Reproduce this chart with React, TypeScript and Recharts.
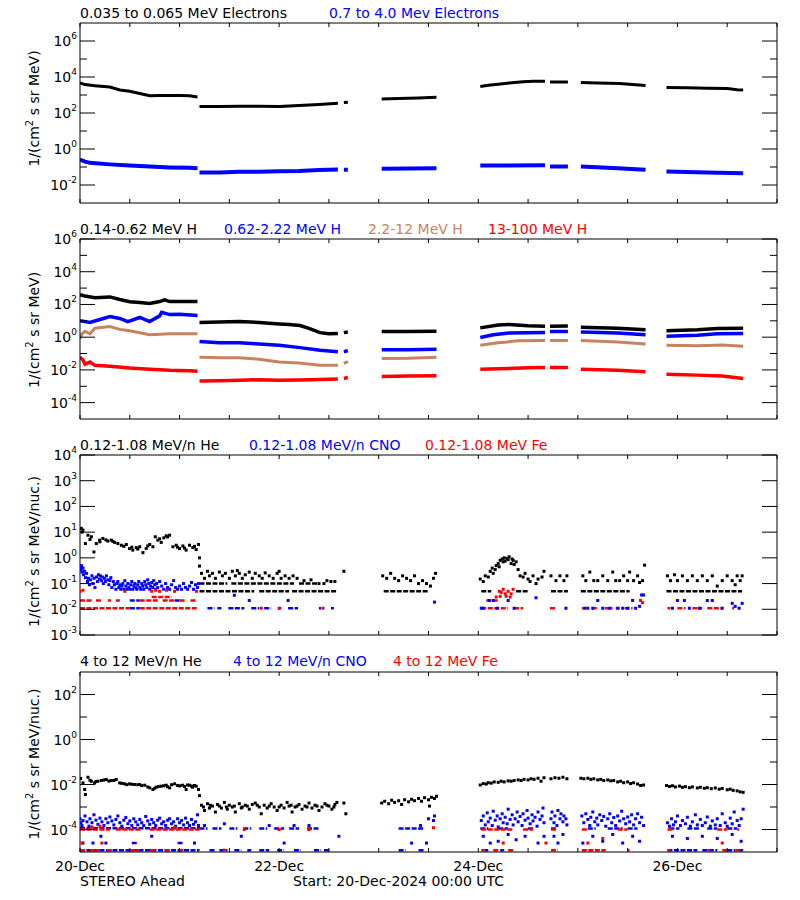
import React from 'react';
import { ComposedChart, Line, Scatter, XAxis, YAxis } from 'recharts';

type Pt = [number, number];
type Row = [number, number, number];

// ---------- X axis (days since 20-Dec-2024 00:00 UTC) ----------
const xTicks = [0, 0.5, 1, 1.5, 2, 2.5, 3, 3.5, 4, 4.5, 5, 5.5, 6, 6.5, 7];
const xTickLabels: Record<string, string> = { '0': '20-Dec', '2': '22-Dec', '4': '24-Dec', '6': '26-Dec' };

// ---------- Panel 1: electrons ----------
const p1Ticks = [0.01, 0.1, 1, 10, 100, 1000, 10000, 100000, 1000000];
const eLow: Pt[][] = [
  [[0, 4700], [0.05, 3800], [0.15, 3300], [0.3, 2800], [0.4, 1900], [0.5, 1600], [0.6, 1200], [0.7, 900], [0.8, 950], [0.9, 950], [1.0, 950], [1.1, 900], [1.18, 780]],
  [[1.2, 230], [1.4, 230], [1.6, 240], [1.8, 235], [2.0, 230], [2.2, 260], [2.4, 300], [2.59, 350]],
  [[2.65, 380], [2.69, 400]],
  [[3.03, 600], [3.2, 630], [3.4, 680], [3.58, 740]],
  [[4.02, 3000], [4.1, 3500], [4.2, 4000], [4.31, 4700], [4.45, 5500], [4.55, 5800], [4.67, 5800]],
  [[4.72, 5200], [4.9, 5200]],
  [[5.03, 5000], [5.2, 4700], [5.42, 4300], [5.55, 3800], [5.68, 3400]],
  [[5.89, 2600], [6.1, 2500], [6.3, 2350], [6.5, 2300], [6.6, 1950], [6.66, 1900]],
];
const eHigh: Pt[][] = [
  [[0, 0.26], [0.05, 0.2], [0.1, 0.17], [0.3, 0.14], [0.5, 0.12], [0.7, 0.105], [0.9, 0.095], [1.1, 0.09], [1.18, 0.085]],
  [[1.2, 0.05], [1.4, 0.05], [1.6, 0.055], [1.8, 0.055], [2.0, 0.058], [2.2, 0.06], [2.4, 0.068], [2.59, 0.072]],
  [[2.65, 0.07], [2.69, 0.07]],
  [[3.03, 0.08], [3.3, 0.082], [3.58, 0.085]],
  [[4.02, 0.12], [4.3, 0.12], [4.67, 0.125]],
  [[4.72, 0.105], [4.9, 0.105]],
  [[5.03, 0.105], [5.4, 0.085], [5.68, 0.07]],
  [[5.89, 0.057], [6.3, 0.05], [6.66, 0.045]],
];

// ---------- Panel 2: protons ----------
const p2Ticks = [0.0001, 0.001, 0.01, 0.1, 1, 10, 100, 1000, 10000, 100000, 1000000];
const hA: Pt[][] = [
  [[0, 390], [0.05, 330], [0.15, 260], [0.3, 290], [0.4, 200], [0.5, 145], [0.6, 130], [0.7, 115], [0.8, 150], [0.85, 190], [0.9, 150], [1.0, 150], [1.18, 150]],
  [[1.2, 8], [1.4, 8.5], [1.6, 9], [1.8, 8], [2.0, 6.5], [2.1, 6], [2.21, 5.2], [2.3, 3.5], [2.41, 1.9], [2.5, 1.6], [2.59, 1.7]],
  [[2.65, 1.9], [2.69, 2.1]],
  [[3.03, 2.2], [3.3, 2.2], [3.58, 2.3]],
  [[4.02, 3.7], [4.2, 5.5], [4.31, 6], [4.5, 5], [4.67, 4.7]],
  [[4.72, 4.7], [4.9, 4.8]],
  [[5.03, 4.1], [5.4, 3.5], [5.68, 2.8]],
  [[5.89, 2.5], [6.2, 2.8], [6.4, 3.4], [6.66, 3.5]],
];
const hB: Pt[][] = [
  [[0, 10], [0.1, 8], [0.2, 12], [0.3, 18], [0.4, 14], [0.48, 9], [0.6, 16], [0.7, 9], [0.8, 20], [0.82, 33], [0.9, 24], [1.0, 25], [1.18, 21]],
  [[1.2, 0.55], [1.4, 0.46], [1.6, 0.45], [1.8, 0.38], [2.0, 0.32], [2.21, 0.23], [2.41, 0.16], [2.59, 0.13]],
  [[2.65, 0.13], [2.69, 0.15]],
  [[3.03, 0.17], [3.3, 0.17], [3.58, 0.18]],
  [[4.02, 0.95], [4.15, 1.4], [4.31, 1.8], [4.67, 1.9]],
  [[4.72, 2.2], [4.9, 2.2]],
  [[5.03, 2.1], [5.4, 1.8], [5.68, 1.4]],
  [[5.89, 1.15], [6.2, 1.3], [6.4, 1.6], [6.66, 1.65]],
];
const hC: Pt[][] = [
  [[0, 0.8], [0.02, 1.6], [0.05, 2.3], [0.1, 1.6], [0.15, 3.5], [0.3, 4.5], [0.4, 3], [0.5, 2.5], [0.7, 1.4], [0.9, 1.6], [1.18, 1.6]],
  [[1.2, 0.06], [1.4, 0.055], [1.6, 0.055], [1.8, 0.045], [2.0, 0.03], [2.2, 0.026], [2.41, 0.019], [2.59, 0.019]],
  [[2.65, 0.025], [2.69, 0.032]],
  [[3.03, 0.05], [3.3, 0.052], [3.58, 0.06]],
  [[4.02, 0.32], [4.2, 0.45], [4.4, 0.6], [4.67, 0.63]],
  [[4.72, 0.63], [4.9, 0.63]],
  [[5.03, 0.63], [5.4, 0.5], [5.68, 0.38]],
  [[5.89, 0.32], [6.2, 0.3], [6.45, 0.33], [6.66, 0.28]],
];
const hD: Pt[][] = [
  [[0, 0.06], [0.03, 0.04], [0.05, 0.022], [0.1, 0.03], [0.15, 0.019], [0.3, 0.017], [0.5, 0.013], [0.7, 0.011], [0.9, 0.0095], [1.1, 0.009], [1.18, 0.0083]],
  [[1.2, 0.0021], [1.4, 0.0022], [1.6, 0.0023], [1.8, 0.0025], [2.0, 0.0023], [2.2, 0.0024], [2.41, 0.0026], [2.59, 0.0028]],
  [[2.65, 0.003], [2.69, 0.0035]],
  [[3.03, 0.004], [3.3, 0.0042], [3.58, 0.0044]],
  [[4.02, 0.011], [4.3, 0.012], [4.5, 0.0135], [4.67, 0.014]],
  [[4.72, 0.014], [4.9, 0.014]],
  [[5.03, 0.011], [5.4, 0.0095], [5.68, 0.0078]],
  [[5.89, 0.0055], [6.2, 0.0048], [6.45, 0.0042], [6.66, 0.003]],
];

// ---------- Panel 3: 0.12-1.08 MeV/n ions ----------
const p3Ticks = [0.001, 0.01, 0.1, 1, 10, 100, 1000, 10000];
const he3Pts: Pt[] = [
  [0.013, 14], [0.03, 12], [0.054, 3.6], [0.08, 7.6], [0.114, 6.6], [0.14, 1.7], [0.164, 3.6], [0.197, 4.9], [0.23, 5.7], [0.28, 4.5],
  [0.314, 4.9], [0.348, 4.0], [0.38, 3.6], [0.415, 3.1], [0.465, 3.3], [0.498, 2.3], [0.53, 2.0], [0.565, 2.5], [0.6, 2.7], [0.632, 1.6],
  [0.665, 2.3], [0.7, 3.3], [0.732, 2.7], [0.756, 6.6], [0.782, 4.9], [0.816, 4.0], [0.842, 6.0], [0.866, 7.2], [0.9, 7.6], [0.933, 2.7],
  [0.966, 3.1], [1.0, 2.3], [1.033, 2.9], [1.066, 2.0], [1.1, 3.1], [1.133, 2.5], [1.167, 2.1], [1.19, 3.3], [1.2, 1.0], [1.2, 0.48],
  [0.02, 10], [0.1, 5.2], [0.2, 4.2], [0.26, 5.0], [0.33, 4.4], [0.44, 2.8], [0.52, 2.6], [0.58, 2.2], [0.68, 2.9], [0.8, 5.5],
  [0.88, 6.5], [0.98, 2.6], [1.05, 2.4], [1.15, 2.8],
  [1.22, 0.25], [1.25, 0.16], [1.28, 0.3], [1.3, 0.2], [1.33, 0.25], [1.36, 0.16], [1.4, 0.28], [1.43, 0.2], [1.46, 0.25], [1.5, 0.16],
  [1.53, 0.3], [1.56, 0.2], [1.58, 0.32], [1.6, 0.25], [1.63, 0.16], [1.66, 0.22], [1.7, 0.28], [1.73, 0.16], [1.76, 0.25], [1.8, 0.2],
  [1.83, 0.16], [1.86, 0.26], [1.9, 0.2], [1.94, 0.16], [1.98, 0.25], [2.0, 0.3], [2.02, 0.16], [2.06, 0.2], [2.1, 0.16], [2.14, 0.2],
  [2.18, 0.16], [2.25, 0.13], [2.32, 0.14], [2.4, 0.1], [2.45, 0.1], [2.48, 0.13], [2.52, 0.12], [2.56, 0.12], [2.65, 0.3],
  [3.04, 0.2], [3.08, 0.16], [3.12, 0.25], [3.16, 0.16], [3.2, 0.13], [3.24, 0.2], [3.28, 0.16], [3.32, 0.13], [3.36, 0.2], [3.4, 0.1],
  [3.44, 0.13], [3.48, 0.1], [3.52, 0.08], [3.55, 0.16], [3.57, 0.25],
  [4.02, 0.15], [4.05, 0.12], [4.07, 0.2], [4.1, 0.18], [4.12, 0.3], [4.14, 0.4], [4.15, 0.25], [4.17, 0.35], [4.18, 0.5], [4.2, 0.6],
  [4.21, 0.45], [4.22, 0.8], [4.24, 0.9], [4.25, 0.7], [4.26, 1.0], [4.27, 0.75], [4.29, 0.95], [4.3, 0.85], [4.31, 1.1], [4.33, 0.6],
  [4.34, 0.9], [4.35, 0.8], [4.36, 0.55], [4.38, 0.7], [4.4, 0.35], [4.42, 0.2], [4.45, 0.18], [4.47, 0.25], [4.5, 0.15], [4.52, 0.12],
  [4.55, 0.2], [4.58, 0.1], [4.6, 0.15], [4.64, 0.18], [4.66, 0.3],
  [4.73, 0.2], [4.78, 0.13], [4.82, 0.2], [4.86, 0.13], [4.89, 0.2],
  [5.05, 0.2], [5.08, 0.13], [5.12, 0.28], [5.16, 0.13], [5.2, 0.13], [5.25, 0.2], [5.3, 0.13], [5.35, 0.28], [5.38, 0.13], [5.42, 0.13],
  [5.46, 0.2], [5.5, 0.13], [5.52, 0.28], [5.56, 0.13], [5.6, 0.2], [5.62, 0.11], [5.65, 0.13], [5.67, 0.52],
  [5.9, 0.2], [5.93, 0.13], [5.97, 0.22], [6.0, 0.13], [6.05, 0.2], [6.1, 0.13], [6.15, 0.2], [6.2, 0.13], [6.25, 0.2], [6.3, 0.13],
  [6.35, 0.2], [6.4, 0.08], [6.45, 0.13], [6.5, 0.2], [6.55, 0.13], [6.58, 0.09], [6.6, 0.2], [6.63, 0.13], [6.65, 0.2],
];
const he3Rows: Row[] = [
  [1.2, 1.75, 0.05], [1.8, 2.1, 0.05], [2.13, 2.58, 0.05], [3.05, 3.5, 0.05], [4.03, 4.13, 0.05], [4.38, 4.5, 0.05],
  [4.73, 4.9, 0.05], [5.03, 5.52, 0.05], [5.89, 6.65, 0.05],
  [1.2, 1.48, 0.1], [1.52, 2.15, 0.1], [2.2, 2.38, 0.1],
];
const cno3Pts: Pt[] = [
  [0.005, 0.45], [0.01, 0.35], [0.015, 0.5], [0.02, 0.28], [0.03, 0.4], [0.035, 0.22], [0.045, 0.3], [0.055, 0.17], [0.065, 0.25], [0.075, 0.12],
  [0.085, 0.16], [0.095, 0.09], [0.105, 0.14], [0.12, 0.2], [0.13, 0.1], [0.14, 0.16], [0.15, 0.07], [0.165, 0.18], [0.175, 0.12], [0.185, 0.22],
  [0.195, 0.15], [0.205, 0.2], [0.215, 0.13], [0.225, 0.18], [0.235, 0.1], [0.245, 0.16], [0.255, 0.12], [0.265, 0.2], [0.28, 0.14], [0.29, 0.09],
  [0.3, 0.13], [0.31, 0.17], [0.32, 0.07], [0.335, 0.12], [0.345, 0.09], [0.36, 0.06], [0.37, 0.1], [0.38, 0.12], [0.39, 0.07], [0.4, 0.09],
  [0.41, 0.06], [0.42, 0.08], [0.43, 0.1], [0.44, 0.06], [0.45, 0.13], [0.46, 0.08], [0.47, 0.06], [0.48, 0.1], [0.49, 0.07], [0.5, 0.06],
  [0.51, 0.09], [0.52, 0.12], [0.53, 0.06], [0.54, 0.08], [0.55, 0.1], [0.56, 0.07], [0.57, 0.06], [0.58, 0.09], [0.59, 0.12], [0.6, 0.07],
  [0.61, 0.06], [0.62, 0.1], [0.63, 0.08], [0.64, 0.06], [0.65, 0.12], [0.66, 0.09], [0.67, 0.07], [0.68, 0.14], [0.69, 0.1], [0.7, 0.06],
  [0.71, 0.08], [0.72, 0.11], [0.73, 0.07], [0.74, 0.13], [0.75, 0.09], [0.76, 0.06], [0.77, 0.1], [0.78, 0.07], [0.8, 0.12], [0.82, 0.08],
  [0.84, 0.06], [0.86, 0.1], [0.88, 0.07], [0.9, 0.06], [0.92, 0.09], [0.94, 0.13], [0.96, 0.07], [0.98, 0.06], [1.0, 0.08], [1.02, 0.06],
  [1.04, 0.1], [1.06, 0.07], [1.08, 0.06], [1.1, 0.08], [1.12, 0.11], [1.14, 0.06], [1.16, 0.09], [1.18, 0.07], [1.19, 0.1],
  [1.55, 0.035], [1.7, 0.022], [2.09, 0.022],
  [3.56, 0.019], [4.03, 0.011], [4.05, 0.011], [4.19, 0.011], [4.36, 0.011], [4.11, 0.022], [4.15, 0.022], [4.3, 0.022], [4.58, 0.028],
  [4.88, 0.011], [5.07, 0.011], [5.1, 0.011], [5.15, 0.011], [5.2, 0.022], [5.25, 0.011], [5.32, 0.011], [5.4, 0.011], [5.45, 0.011],
  [5.5, 0.011], [5.55, 0.022], [5.58, 0.011], [5.62, 0.013], [5.64, 0.036], [5.66, 0.036], [5.95, 0.011], [6.0, 0.022], [6.07, 0.022],
  [6.12, 0.011], [6.22, 0.011], [6.3, 0.022], [6.35, 0.022], [6.45, 0.011], [6.55, 0.017], [6.58, 0.013], [6.62, 0.011], [6.65, 0.017],
];
const cno3Rows: Row[] = [
  [0.5, 0.6, 0.011], [0.5, 0.6, 0.022], [0.95, 1.0, 0.022],
  [1.28, 1.35, 0.011], [1.38, 1.42, 0.011], [1.49, 1.65, 0.011], [1.72, 1.8, 0.011], [1.85, 1.92, 0.011], [1.99, 2.02, 0.011],
  [2.09, 2.19, 0.011], [2.4, 2.42, 0.011], [2.52, 2.55, 0.011],
];
const fe3Pts: Pt[] = [
  [0.0, 0.05], [0.03, 0.055], [0.45, 0.05], [0.72, 0.05], [0.76, 0.055], [0.8, 0.05], [0.87, 0.055], [0.95, 0.05], [1.17, 0.05],
  [1.82, 0.011], [2.0, 0.011], [2.44, 0.011],
  [4.18, 0.03], [4.21, 0.05], [4.22, 0.032], [4.23, 0.045], [4.25, 0.06], [4.27, 0.04], [4.28, 0.032], [4.3, 0.05], [4.32, 0.03],
  [4.33, 0.04], [4.35, 0.06], [5.63, 0.022], [5.65, 0.018],
];
const fe3Rows: Row[] = [
  [0, 0.5, 0.011], [0.6, 1.18, 0.011],
  [0, 0.13, 0.022], [0.16, 0.21, 0.022], [0.28, 0.31, 0.022], [0.36, 0.4, 0.022], [0.6, 0.78, 0.022], [0.83, 0.95, 0.022],
  [1.0, 1.05, 0.022], [1.11, 1.16, 0.022], [0.72, 0.92, 0.03],
  [4.03, 4.3, 0.011], [4.36, 4.45, 0.011], [4.72, 4.78, 0.011], [5.04, 5.07, 0.011], [5.14, 5.2, 0.011], [5.27, 5.35, 0.011],
  [5.38, 5.42, 0.011], [5.47, 5.55, 0.011], [5.9, 5.93, 0.011], [6.0, 6.08, 0.011], [6.15, 6.25, 0.011], [6.3, 6.45, 0.011],
  [6.55, 6.57, 0.011], [4.08, 4.2, 0.022],
];

// ---------- Panel 4: 4-12 MeV/n ions ----------
const p4Ticks = [0.0001, 0.001, 0.01, 0.1, 1, 10, 100];
const he4Pts: Pt[] = [
  [0.007, 0.0186], [0.03, 0.0118], [0.047, 0.006], [0.054, 0.0036], [0.08, 0.021], [0.114, 0.014], [0.147, 0.0118], [0.18, 0.014],
  [0.214, 0.015], [0.264, 0.0166], [0.314, 0.015], [0.364, 0.0166], [0.398, 0.0118], [0.448, 0.0107], [0.498, 0.0107], [0.548, 0.01],
  [0.6, 0.01], [0.65, 0.0093], [0.7, 0.0071], [0.732, 0.006], [0.766, 0.0076], [0.816, 0.0084], [0.866, 0.0093], [0.9, 0.0071],
  [0.95, 0.0107], [0.98, 0.0091], [1.03, 0.0093], [1.066, 0.006], [1.1, 0.0093], [1.13, 0.0076], [1.167, 0.0084], [1.19, 0.006], [1.2, 0.0032],
  [0.1, 0.0155], [0.16, 0.0135], [0.24, 0.0158], [0.29, 0.0142], [0.34, 0.0152], [0.42, 0.0112], [0.47, 0.0098], [0.52, 0.0102],
  [0.58, 0.0098], [0.62, 0.0089], [0.68, 0.0078], [0.75, 0.0068], [0.79, 0.0082], [0.84, 0.0088], [0.88, 0.0079], [0.92, 0.0098],
  [1.0, 0.0087], [1.05, 0.0082], [1.08, 0.0095], [1.12, 0.0085], [1.15, 0.009],
  [1.22, 0.0012], [1.25, 0.0007], [1.28, 0.0014], [1.3, 0.0009], [1.33, 0.0011], [1.36, 0.0006], [1.38, 0.0013], [1.42, 0.0009],
  [1.45, 0.0016], [1.48, 0.0008], [1.5, 0.0012], [1.53, 0.001], [1.56, 0.0006], [1.6, 0.0014], [1.63, 0.001], [1.66, 0.0012],
  [1.7, 0.0008], [1.73, 0.0013], [1.76, 0.0015], [1.8, 0.001], [1.82, 0.0005], [1.85, 0.0012], [1.88, 0.0009], [1.92, 0.0014],
  [1.95, 0.001], [1.98, 0.0007], [2.02, 0.0012], [2.05, 0.0009], [2.08, 0.0016], [2.1, 0.0011], [2.13, 0.0006], [2.16, 0.001],
  [2.2, 0.0013], [2.23, 0.0008], [2.26, 0.0011], [2.3, 0.0015], [2.33, 0.0009], [2.36, 0.0012], [2.4, 0.0007], [2.43, 0.001],
  [2.46, 0.0014], [2.5, 0.0011], [2.53, 0.0008], [2.56, 0.0013], [2.58, 0.0016], [2.65, 0.0015], [2.67, 0.0005],
  [1.24, 0.001], [1.31, 0.0012], [1.4, 0.0011], [1.47, 0.001], [1.55, 0.0011], [1.62, 0.0009], [1.68, 0.0011], [1.78, 0.0012],
  [1.9, 0.0011], [2.0, 0.001], [2.12, 0.0012], [2.18, 0.0011], [2.28, 0.001], [2.38, 0.0011], [2.48, 0.0012], [2.55, 0.001],
  [3.03, 0.0015], [3.06, 0.0018], [3.1, 0.0014], [3.13, 0.002], [3.16, 0.0016], [3.2, 0.0019], [3.23, 0.0013], [3.26, 0.0021],
  [3.3, 0.0017], [3.33, 0.0022], [3.36, 0.0019], [3.4, 0.0024], [3.43, 0.0018], [3.46, 0.0026], [3.5, 0.0021], [3.51, 0.0011],
  [3.53, 0.0027], [3.56, 0.0024], [3.58, 0.003],
  [4.02, 0.0095], [4.05, 0.011], [4.08, 0.0105], [4.1, 0.012], [4.13, 0.0115], [4.16, 0.013], [4.2, 0.0125], [4.23, 0.014],
  [4.26, 0.013], [4.3, 0.0145], [4.33, 0.014], [4.36, 0.015], [4.4, 0.016], [4.43, 0.015], [4.46, 0.017], [4.5, 0.016],
  [4.53, 0.018], [4.56, 0.017], [4.6, 0.019], [4.63, 0.014], [4.66, 0.02],
  [4.73, 0.018], [4.77, 0.02], [4.81, 0.019], [4.85, 0.021], [4.89, 0.018],
  [5.03, 0.019], [5.06, 0.018], [5.1, 0.019], [5.13, 0.017], [5.16, 0.018], [5.2, 0.016], [5.23, 0.017], [5.26, 0.015],
  [5.3, 0.016], [5.33, 0.0145], [5.36, 0.015], [5.4, 0.013], [5.43, 0.014], [5.46, 0.012], [5.5, 0.013], [5.53, 0.011],
  [5.56, 0.012], [5.6, 0.0105], [5.63, 0.009], [5.66, 0.0095],
  [5.89, 0.009], [5.92, 0.0082], [5.95, 0.0088], [5.98, 0.0078], [6.02, 0.0085], [6.05, 0.0075], [6.08, 0.008], [6.12, 0.0072],
  [6.15, 0.0078], [6.2, 0.007], [6.23, 0.0075], [6.27, 0.0068], [6.3, 0.0072], [6.34, 0.0065], [6.38, 0.007], [6.42, 0.0062],
  [6.45, 0.0067], [6.5, 0.0058], [6.53, 0.0062], [6.56, 0.0055], [6.6, 0.0052], [6.63, 0.0047], [6.66, 0.0045],
];
const cno4Pts: Pt[] = [
  [0.0, 3e-4], [0.01, 2e-4], [0.02, 1.5e-4], [0.03, 2.5e-4], [0.05, 4e-4], [0.07, 2.2e-4], [0.09, 1.4e-4], [0.1, 3e-4], [0.12, 2e-4],
  [0.14, 4.5e-4], [0.16, 2.6e-4], [0.18, 1.7e-4], [0.2, 3.2e-4], [0.22, 2.2e-4], [0.24, 1.5e-4], [0.26, 3e-4], [0.28, 2e-4], [0.3, 3.6e-4],
  [0.32, 2.4e-4], [0.34, 1.6e-4], [0.36, 2.8e-4], [0.38, 4e-4], [0.4, 2e-4], [0.42, 1.4e-4], [0.44, 2.6e-4], [0.46, 3.4e-4], [0.48, 1.8e-4],
  [0.5, 2.4e-4], [0.52, 1.5e-4], [0.54, 3e-4], [0.56, 2.2e-4], [0.58, 1.6e-4], [0.6, 2.8e-4], [0.62, 2e-4], [0.64, 1.5e-4], [0.66, 3.8e-4],
  [0.68, 2.4e-4], [0.7, 1.7e-4], [0.72, 2.8e-4], [0.74, 2e-4], [0.76, 1.5e-4], [0.78, 2.6e-4], [0.8, 3.2e-4], [0.82, 1.8e-4], [0.84, 2.2e-4],
  [0.86, 1.5e-4], [0.88, 2.6e-4], [0.9, 3e-4], [0.92, 1.8e-4], [0.94, 2.2e-4], [0.96, 1.4e-4], [0.98, 3e-4], [1.0, 2e-4], [1.02, 2.5e-4],
  [1.04, 1.6e-4], [1.06, 3.2e-4], [1.08, 2e-4], [1.1, 1.5e-4], [1.12, 2.8e-4], [1.14, 1.7e-4], [1.16, 2.2e-4], [1.18, 4.5e-4], [1.19, 1.5e-4],
  [0.03, 2.5e-5], [0.13, 2.5e-5], [0.21, 5e-5], [0.72, 5e-5], [0.26, 2.5e-5], [1.15, 2.5e-5],
  [1.25, 1.5e-4], [1.45, 1.8e-4], [1.9, 1.5e-4], [2.15, 1.5e-4], [2.3, 1.5e-4], [1.62, 5e-5], [2.05, 2.5e-5], [2.6, 5e-5],
  [3.42, 1.5e-4], [3.5, 3e-4], [3.55, 2.5e-4], [3.56, 4e-4], [3.33, 2.5e-5], [3.48, 2.5e-5],
  [4.03, 2.5e-4], [4.05, 4e-4], [4.07, 1.6e-4], [4.09, 5.5e-4], [4.1, 2.2e-4], [4.12, 3.2e-4], [4.14, 1.5e-4], [4.15, 6.5e-4], [4.17, 2.6e-4],
  [4.19, 4e-4], [4.2, 1.3e-4], [4.22, 3e-4], [4.24, 5e-4], [4.25, 2e-4], [4.27, 3.5e-4], [4.29, 1.8e-4], [4.3, 8e-4], [4.32, 2.8e-4],
  [4.34, 4.5e-4], [4.35, 1.6e-4], [4.37, 3e-4], [4.39, 6e-4], [4.4, 2.2e-4], [4.42, 3.8e-4], [4.44, 1.5e-4], [4.45, 5e-4], [4.47, 2.6e-4],
  [4.49, 7e-4], [4.5, 3.2e-4], [4.52, 1.8e-4], [4.54, 4.5e-4], [4.55, 2.4e-4], [4.57, 3.5e-4], [4.59, 1.4e-4], [4.6, 6e-4], [4.62, 2.8e-4],
  [4.64, 4e-4], [4.65, 9e-4], [4.66, 2e-4], [4.05, 5e-5], [4.12, 2.5e-5], [4.2, 3e-5], [4.3, 6e-5], [4.38, 3.5e-5], [4.47, 5e-5],
  [4.6, 2.5e-5], [4.66, 5e-5],
  [4.73, 3e-4], [4.74, 6e-4], [4.76, 2e-4], [4.77, 4e-4], [4.79, 1.5e-4], [4.8, 7e-4], [4.82, 3e-4], [4.83, 5e-4], [4.85, 2.2e-4],
  [4.86, 4e-4], [4.88, 3e-4], [4.89, 1.6e-4], [4.76, 5e-5], [4.85, 6e-5], [4.8, 2.5e-5],
  [5.04, 4e-4], [5.06, 2e-4], [5.08, 5e-4], [5.1, 2.8e-4], [5.12, 1.5e-4], [5.13, 3.5e-4], [5.15, 6e-4], [5.17, 2.2e-4], [5.19, 3.2e-4],
  [5.2, 1.6e-4], [5.22, 4.5e-4], [5.24, 2.5e-4], [5.26, 3.8e-4], [5.28, 1.4e-4], [5.3, 3e-4], [5.32, 5e-4], [5.34, 2e-4], [5.36, 3.4e-4],
  [5.38, 1.5e-4], [5.4, 4e-4], [5.42, 2.4e-4], [5.44, 6.5e-4], [5.46, 3e-4], [5.48, 1.8e-4], [5.5, 3.6e-4], [5.52, 2.2e-4], [5.54, 4.5e-4],
  [5.56, 1.6e-4], [5.58, 3e-4], [5.6, 5e-4], [5.62, 2e-4], [5.64, 3.5e-4], [5.66, 1.5e-4], [5.05, 2.5e-5], [5.15, 5e-5], [5.25, 3e-5],
  [5.35, 6e-5], [5.45, 2.5e-5], [5.55, 5e-5], [5.62, 3e-5],
  [5.9, 2e-4], [5.92, 1.4e-4], [5.94, 3e-4], [5.96, 1.6e-4], [5.98, 2.2e-4], [6.0, 4e-4], [6.03, 1.5e-4], [6.05, 2.5e-4], [6.08, 1.8e-4],
  [6.1, 3.5e-4], [6.13, 1.4e-4], [6.15, 2.2e-4], [6.18, 4.5e-4], [6.2, 1.6e-4], [6.23, 2.8e-4], [6.25, 1.5e-4], [6.28, 2e-4], [6.3, 3.6e-4],
  [6.33, 1.4e-4], [6.35, 2.4e-4], [6.38, 1.6e-4], [6.4, 3e-4], [6.43, 1.5e-4], [6.45, 5e-4], [6.48, 2e-4], [6.5, 1.4e-4], [6.53, 3.2e-4],
  [6.55, 1.8e-4], [6.57, 6e-4], [6.6, 2.5e-4], [6.62, 1.5e-4], [6.64, 3e-4], [6.66, 8e-4], [5.95, 5e-5], [6.1, 4e-5], [6.25, 5e-5],
  [6.4, 4e-5], [6.55, 6e-5], [6.64, 3e-5],
];
const cno4Rows: Row[] = [
  [0, 1.2, 1.15e-4], [0, 1.2, 1.2e-5], [0.52, 0.58, 2.5e-5], [0.98, 1.03, 2.5e-5],
  [1.2, 1.28, 1.1e-4], [1.33, 1.42, 1.1e-4], [1.5, 1.58, 1.1e-4], [1.64, 1.72, 1.1e-4], [1.8, 1.88, 1.1e-4], [1.95, 2.05, 1.1e-4],
  [2.1, 2.2, 1.1e-4], [2.28, 2.4, 1.1e-4],
  [1.3, 1.36, 1.2e-5], [1.4, 1.48, 1.2e-5], [1.55, 1.62, 1.2e-5], [1.68, 1.72, 1.2e-5], [1.8, 1.9, 1.2e-5], [1.98, 2.05, 1.2e-5],
  [2.15, 2.22, 1.2e-5], [2.35, 2.42, 1.2e-5], [2.45, 2.5, 1.2e-5],
  [3.2, 3.45, 1.1e-4], [3.2, 3.27, 1.2e-5], [3.4, 3.45, 1.2e-5],
  [4.02, 4.1, 1.1e-4], [4.2, 4.3, 1.1e-4], [4.5, 4.55, 1.1e-4], [4.73, 4.78, 1.1e-4], [5.1, 5.18, 1.1e-4], [5.3, 5.45, 1.1e-4],
  [5.5, 5.6, 1.1e-4], [5.92, 6.02, 1.1e-4], [6.1, 6.22, 1.1e-4], [6.3, 6.4, 1.1e-4], [6.5, 6.6, 1.1e-4],
  [4.06, 4.1, 1.2e-5], [4.22, 4.26, 1.2e-5], [5.9, 6.2, 1.2e-5], [6.25, 6.4, 1.2e-5], [6.5, 6.58, 1.2e-5], [6.62, 6.66, 1.2e-5],
];
const fe4Pts: Pt[] = [
  [0.12, 1.3e-4], [0.2, 1.4e-4], [0.95, 1.2e-4], [0.02, 2.5e-5], [0.22, 2.5e-5], [1.65, 1e-4], [2.0, 1e-4], [2.3, 1e-4], [1.45, 1.2e-5],
  [3.55, 1.2e-4], [4.25, 2.5e-5], [4.68, 2.5e-5], [5.1, 2.5e-5], [5.25, 4e-5], [6.45, 2.5e-5],
];
const fe4Rows: Row[] = [
  [0, 0.3, 1.0e-4], [0.36, 0.62, 1.0e-4], [0.7, 1.2, 1.0e-4],
  [0, 0.07, 1.2e-5], [0.1, 0.2, 1.2e-5], [0.27, 0.33, 1.2e-5], [0.5, 0.6, 1.2e-5], [0.7, 0.76, 1.2e-5], [0.86, 0.9, 1.2e-5], [1.0, 1.04, 1.2e-5],
  [4.03, 4.35, 1.0e-4], [4.45, 4.55, 1.0e-4], [4.73, 4.78, 1.0e-4], [5.04, 5.1, 1.0e-4], [5.4, 5.5, 1.0e-4], [5.9, 5.95, 1.0e-4],
  [6.4, 6.5, 1.0e-4], [6.6, 6.62, 1.0e-4],
  [4.03, 4.06, 1.2e-5], [4.15, 4.2, 1.2e-5], [4.3, 4.35, 1.2e-5], [4.73, 4.8, 1.2e-5], [5.04, 5.28, 1.2e-5], [5.5, 5.52, 1.2e-5],
  [5.9, 5.93, 1.2e-5], [6.3, 6.33, 1.2e-5], [6.45, 6.5, 1.2e-5], [6.58, 6.62, 1.2e-5],
];

// ---------- helpers ----------
const segs = (s: Pt[][]) => {
  const out: { t: number; v: number | null }[] = [];
  s.forEach((seg) => {
    seg.forEach(([t, v]) => out.push({ t, v }));
    out.push({ t: seg[seg.length - 1][0], v: null });
  });
  return out;
};
const rowLines = (r: Row[]) => segs(r.map(([a, b, l]) => [[a, l], [b, l]] as Pt[]));
const pts = (p: Pt[]) => p.map(([t, v]) => ({ t, v }));

const BLACK = '#000000';
const BLUE = '#0000ff';
const RED = '#ff0000';
const BROWN = '#c8825f';
const FONT = 'DejaVu Sans, sans-serif';

type LineSpec = { kind: 'line'; data: any[]; color: string; width: number; dash?: string };
type DotSpec = { kind: 'dots'; data: any[]; color: string };
type Spec = LineSpec | DotSpec;

type PanelCfg = {
  top: number;
  domain: [number, number];
  ticks: number[];
  allLabeled: boolean;
  series: Spec[];
  bottomLabels: boolean;
};

const panels: PanelCfg[] = [
  {
    top: 23, domain: [1e-3, 1e7], ticks: p1Ticks, allLabeled: false, bottomLabels: false,
    series: [
      { kind: 'line', data: segs(eLow), color: BLACK, width: 3 },
      { kind: 'line', data: segs(eHigh), color: BLUE, width: 4 },
    ],
  },
  {
    top: 239, domain: [1e-5, 1e6], ticks: p2Ticks, allLabeled: false, bottomLabels: false,
    series: [
      { kind: 'line', data: segs(hA), color: BLACK, width: 3.5 },
      { kind: 'line', data: segs(hB), color: BLUE, width: 3.5 },
      { kind: 'line', data: segs(hC), color: BROWN, width: 3 },
      { kind: 'line', data: segs(hD), color: RED, width: 3.5 },
    ],
  },
  {
    top: 455, domain: [1e-3, 1e4], ticks: p3Ticks, allLabeled: true, bottomLabels: false,
    series: [
      { kind: 'dots', data: pts(he3Pts), color: BLACK },
      { kind: 'line', data: rowLines(he3Rows), color: BLACK, width: 2.5, dash: '5 1.5' },
      { kind: 'dots', data: pts(cno3Pts), color: BLUE },
      { kind: 'line', data: rowLines(cno3Rows), color: BLUE, width: 2.5, dash: '5 1.5' },
      { kind: 'line', data: rowLines(fe3Rows), color: RED, width: 2.5, dash: '5 1.5' },
      { kind: 'dots', data: pts(fe3Pts), color: RED },
    ],
  },
  {
    top: 672, domain: [1e-5, 1e3], ticks: p4Ticks, allLabeled: false, bottomLabels: true,
    series: [
      { kind: 'dots', data: pts(he4Pts), color: BLACK },
      { kind: 'dots', data: pts(cno4Pts), color: BLUE },
      { kind: 'line', data: rowLines(cno4Rows), color: BLUE, width: 2.5, dash: '5 1.5' },
      { kind: 'line', data: rowLines(fe4Rows), color: RED, width: 2.5, dash: '5 1.5' },
      { kind: 'dots', data: pts(fe4Pts), color: RED },
    ],
  },
];

const PLOT_H = 180;
const M_TOP = 12;
const M_LEFT = 80;
const M_RIGHT = 23;

const expOf = (v: number) => Math.round(Math.log10(v));

const LeftTick = (props: any, allLabeled: boolean) => {
  const { x, y, payload } = props;
  const e = expOf(payload.value);
  const labeled = allLabeled || e % 2 === 0;
  const len = labeled ? 15 : 7;
  return (
    <g>
      <line x1={x} x2={x + len} y1={y} y2={y} stroke={BLACK} strokeWidth={1} />
      {labeled && (
        <text x={x - 3} y={y + 5} textAnchor="end" fontFamily={FONT} fontSize={14} fill={BLACK}>
          10<tspan dy={-7} fontSize={9}>{String(e)}</tspan>
        </text>
      )}
    </g>
  );
};
const RightTick = (props: any, allLabeled: boolean) => {
  const { x, y, payload } = props;
  const e = expOf(payload.value);
  const labeled = allLabeled || e % 2 === 0;
  const len = labeled ? 15 : 7;
  return <line x1={x} x2={x - len} y1={y} y2={y} stroke={BLACK} strokeWidth={1} />;
};
const BottomTick = (props: any, withLabels: boolean) => {
  const { x, y, payload } = props;
  const lab = xTickLabels[String(payload.value)];
  return (
    <g>
      <line x1={x} x2={x} y1={y} y2={y - 4} stroke={BLACK} strokeWidth={1} />
      {withLabels && lab && (
        <text x={x} y={y + 19} textAnchor="middle" fontFamily={FONT} fontSize={14} fill={BLACK}>{lab}</text>
      )}
    </g>
  );
};
const TopTick = (props: any) => {
  const { x, y } = props;
  return <line x1={x} x2={x} y1={y} y2={y + 4} stroke={BLACK} strokeWidth={1} />;
};

const Dot = (color: string) => (p: any) => (
  <rect x={p.cx - 1.5} y={p.cy - 1.5} width={3} height={3} fill={color} />
);

const Panel = ({ cfg }: { cfg: PanelCfg }) => {
  const mBottom = cfg.bottomLabels ? 30 : 12;
  return (
    <div style={{ position: 'absolute', left: 0, top: cfg.top - M_TOP }}>
      <ComposedChart
        width={800}
        height={PLOT_H + M_TOP + mBottom}
        margin={{ top: M_TOP - 1, right: M_RIGHT - 1, bottom: mBottom - 1, left: M_LEFT - 1 }}
      >
        <XAxis
          xAxisId="b" type="number" dataKey="t" domain={[0, 7]} ticks={xTicks} interval={0}
          allowDataOverflow height={1} tickSize={0} tickMargin={0} tickLine={false}
          axisLine={{ stroke: BLACK, strokeWidth: 1 }}
          tick={(p: any) => BottomTick(p, cfg.bottomLabels)}
        />
        <XAxis
          xAxisId="t" orientation="top" type="number" dataKey="t" domain={[0, 7]} ticks={xTicks} interval={0}
          allowDataOverflow height={1} tickSize={0} tickMargin={0} tickLine={false}
          axisLine={{ stroke: BLACK, strokeWidth: 1 }}
          tick={(p: any) => TopTick(p)}
        />
        <YAxis
          yAxisId="l" type="number" dataKey="v" scale="log" domain={cfg.domain} ticks={cfg.ticks} interval={0}
          allowDataOverflow width={1} tickSize={0} tickMargin={0} tickLine={false}
          axisLine={{ stroke: BLACK, strokeWidth: 1 }}
          tick={(p: any) => LeftTick(p, cfg.allLabeled)}
        />
        <YAxis
          yAxisId="r" orientation="right" type="number" dataKey="v" scale="log" domain={cfg.domain} ticks={cfg.ticks} interval={0}
          allowDataOverflow width={1} tickSize={0} tickMargin={0} tickLine={false}
          axisLine={{ stroke: BLACK, strokeWidth: 1 }}
          tick={(p: any) => RightTick(p, cfg.allLabeled)}
        />
        {cfg.series.map((s, i) =>
          s.kind === 'line' ? (
            <Line
              key={i} xAxisId="b" yAxisId="l" data={s.data} dataKey="v" type="linear"
              stroke={s.color} strokeWidth={s.width} strokeDasharray={s.dash}
              dot={false} activeDot={false} connectNulls={false} isAnimationActive={false}
              strokeLinecap="butt"
            />
          ) : (
            <Scatter
              key={i} xAxisId="b" yAxisId="l" data={s.data} dataKey="v"
              fill={s.color} shape={Dot(s.color)} isAnimationActive={false}
            />
          )
        )}
      </ComposedChart>
    </div>
  );
};

type Title = { text: string; x: number; color: string };
const titles: { y: number; items: Title[] }[] = [
  { y: 18, items: [
    { text: '0.035 to 0.065 MeV Electrons', x: 80, color: BLACK },
    { text: '0.7 to 4.0 Mev Electrons', x: 329, color: BLUE },
  ] },
  { y: 233.5, items: [
    { text: '0.14-0.62 MeV H', x: 80, color: BLACK },
    { text: '0.62-2.22 MeV H', x: 224, color: BLUE },
    { text: '2.2-12 MeV H', x: 368, color: BROWN },
    { text: '13-100 MeV H', x: 488, color: RED },
  ] },
  { y: 449.5, items: [
    { text: '0.12-1.08 MeV/n He', x: 80, color: BLACK },
    { text: '0.12-1.08 MeV/n CNO', x: 249, color: BLUE },
    { text: '0.12-1.08 MeV Fe', x: 425, color: RED },
  ] },
  { y: 666, items: [
    { text: '4 to 12 MeV/n He', x: 80, color: BLACK },
    { text: '4 to 12 MeV/n CNO', x: 233, color: BLUE },
    { text: '4 to 12 MeV Fe', x: 393, color: RED },
  ] },
];
const yLabels: { cy: number; unit: string }[] = [
  { cy: 108.5, unit: ' s sr MeV)' },
  { cy: 330, unit: ' s sr MeV)' },
  { cy: 551.5, unit: ' s sr MeV/nuc.)' },
  { cy: 764, unit: ' s sr MeV/nuc.)' },
];

export default function App() {
  return (
    <div style={{ position: 'absolute', left: 0, top: 0, width: 800, height: 900, background: '#ffffff' }}>
      {panels.map((p, i) => (
        <Panel key={i} cfg={p} />
      ))}
      <svg width={800} height={900} style={{ position: 'absolute', left: 0, top: 0, pointerEvents: 'none' }}>
        {titles.map((g, gi) =>
          g.items.map((t, ti) => (
            <text key={`${gi}-${ti}`} x={t.x} y={g.y} fontFamily={FONT} fontSize={14} fill={t.color}>{t.text}</text>
          ))
        )}
        {yLabels.map((l, i) => (
          <text key={i} transform={`translate(39,${l.cy}) rotate(-90)`} textAnchor="middle" fontFamily={FONT} fontSize={14} fill={BLACK}>
            1/(cm<tspan dy={-6} fontSize={10}>2</tspan><tspan dy={6}>{l.unit}</tspan>
          </text>
        ))}
        <text x={80} y={886} fontFamily={FONT} fontSize={14} fill={BLACK}>STEREO Ahead</text>
        <text x={293} y={886} fontFamily={FONT} fontSize={14} fill={BLACK}>Start: 20-Dec-2024 00:00 UTC</text>
      </svg>
    </div>
  );
}
